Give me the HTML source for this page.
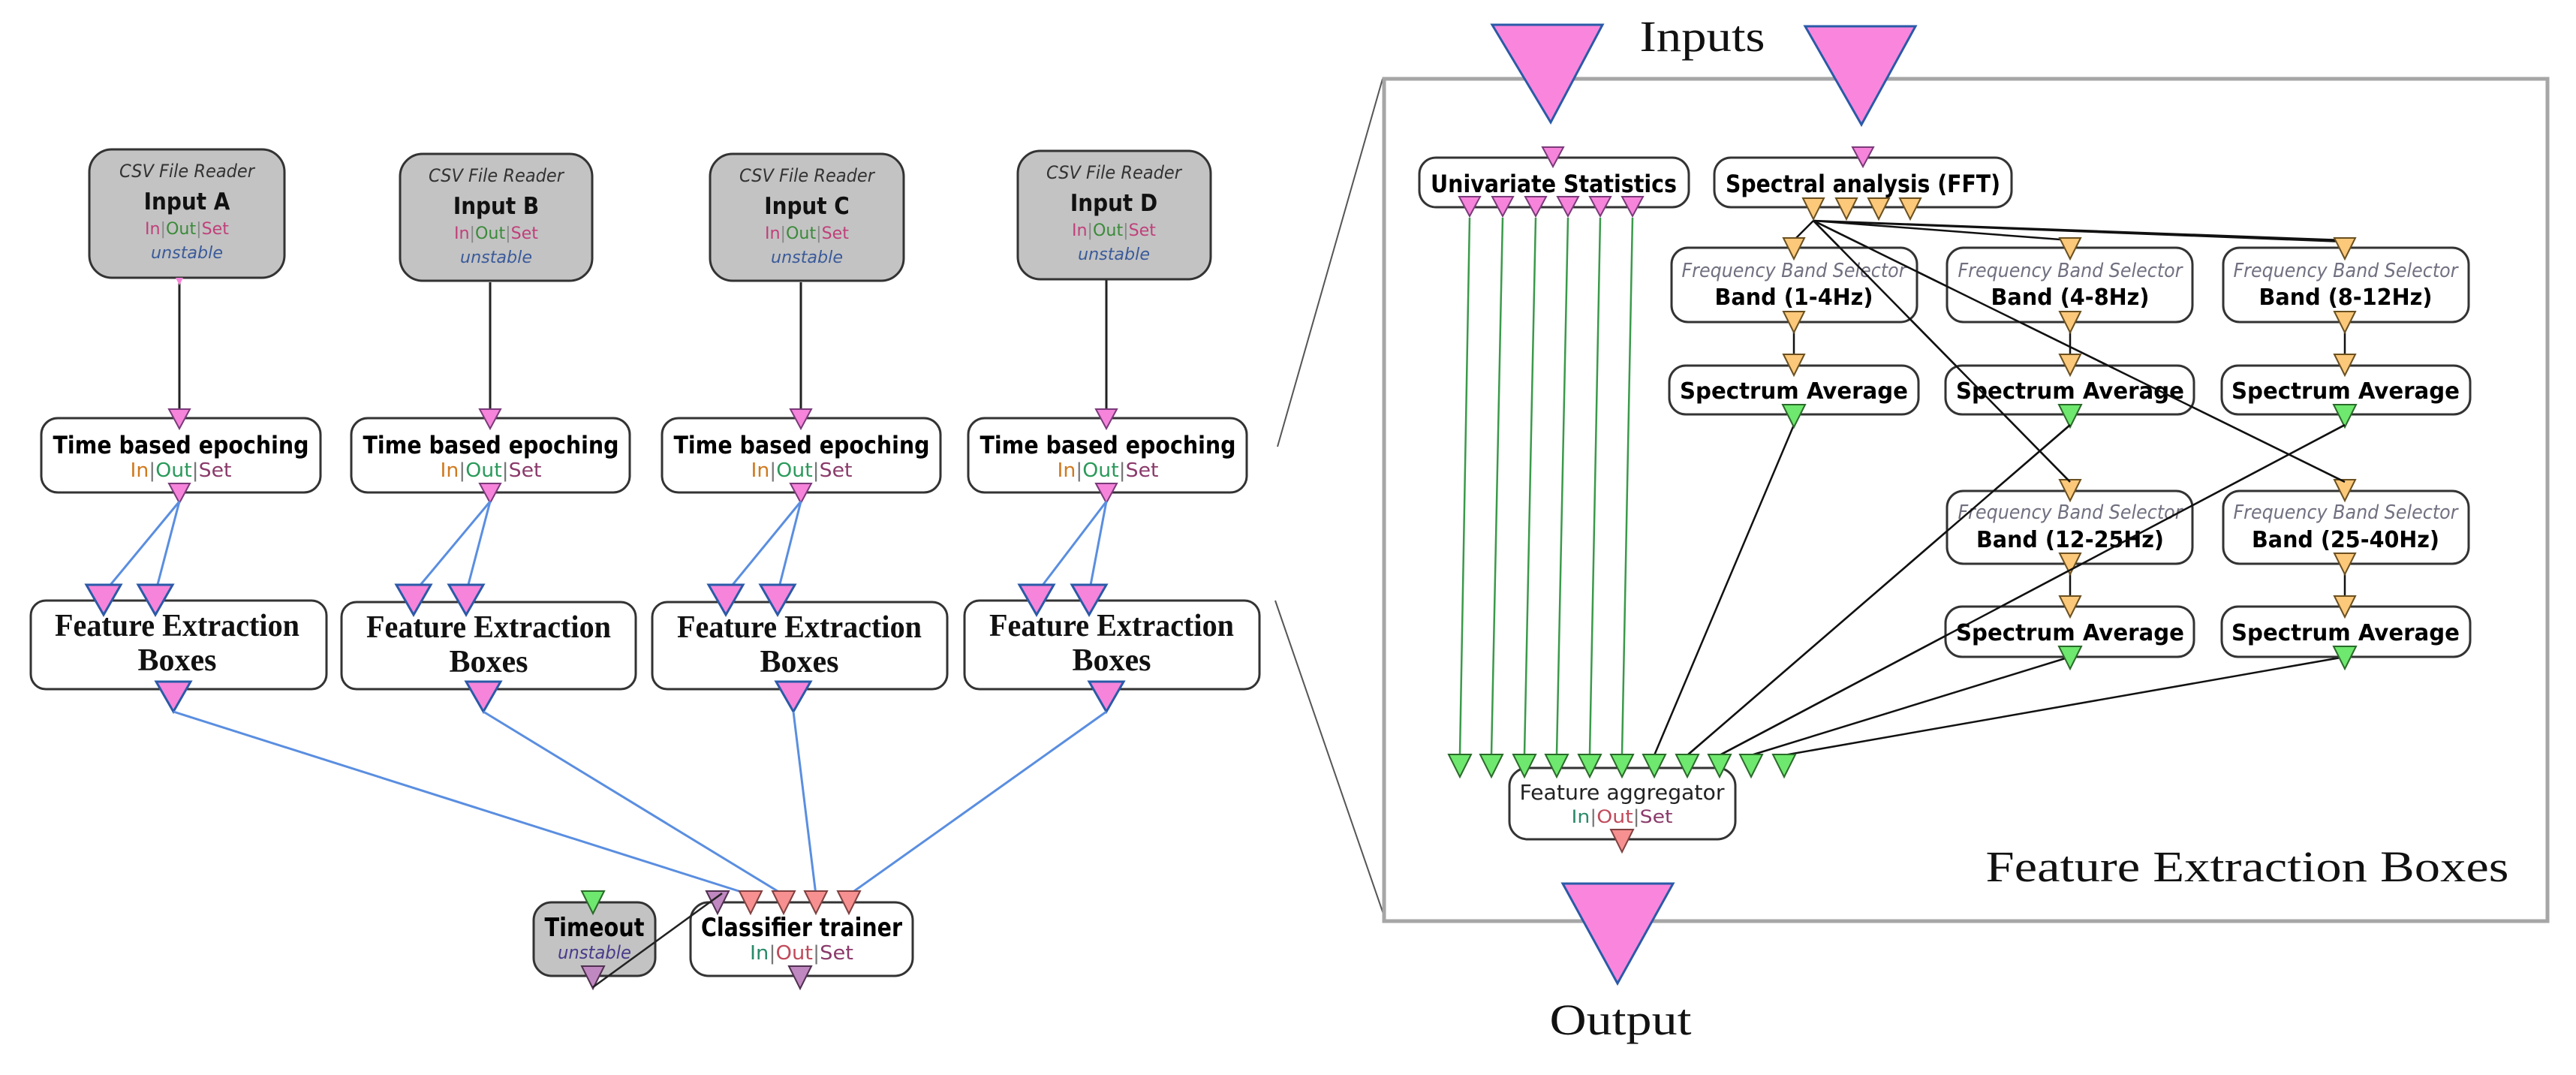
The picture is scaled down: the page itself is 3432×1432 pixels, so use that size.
<!DOCTYPE html>
<html><head><meta charset="utf-8"><style>
html,body{margin:0;padding:0;background:#fff}
svg{display:block}
.s{font-family:"DejaVu Sans Condensed","Liberation Sans",sans-serif}
.t{font-family:"Liberation Serif",serif}
</style></head><body>
<svg width="3432" height="1432" viewBox="0 0 3432 1432" xmlns="http://www.w3.org/2000/svg">
<defs>
<polygon id="pp" points="-14,0 14,0 0,26" fill="#f684da" stroke="#7a3a7a" stroke-width="2"/>
<polygon id="bp" points="-23,0 23,0 0,40" fill="#f684da" stroke="#2a5aa8" stroke-width="3"/>
<polygon id="op" points="-14,0 14,0 0,28" fill="#fcc87a" stroke="#6a5020" stroke-width="2"/>
<polygon id="gp" points="-15,0 15,0 0,30" fill="#6ee86e" stroke="#2a6a2a" stroke-width="2"/>
<polygon id="rp" points="-15,0 15,0 0,30" fill="#f79090" stroke="#804040" stroke-width="2"/>
<polygon id="vp" points="-15,0 15,0 0,30" fill="#c088c0" stroke="#503050" stroke-width="2"/>
</defs>

<line x1="1842" y1="105" x2="1702" y2="595" stroke="#555" stroke-width="2"/>
<line x1="1699" y1="800" x2="1846" y2="1226" stroke="#555" stroke-width="2"/>

<g id="colA">
<line x1="239" y1="370" x2="239" y2="548" stroke="#222" stroke-width="3"/>
<rect x="119" y="199" width="260" height="171" rx="30" fill="#c3c3c3" stroke="#333" stroke-width="3"/>
<text x="249" y="236" class="s" font-size="24" font-style="italic" fill="#333" text-anchor="middle" textLength="180" lengthAdjust="spacingAndGlyphs">CSV File Reader</text>
<text x="249" y="279" class="s" font-size="31" font-weight="bold" fill="#111" text-anchor="middle">Input A</text>
<text x="249" y="312" class="s" font-size="22" text-anchor="middle" textLength="112" lengthAdjust="spacingAndGlyphs"><tspan fill="#c0407a">In</tspan><tspan fill="#888">|</tspan><tspan fill="#3a8a3a">Out</tspan><tspan fill="#888">|</tspan><tspan fill="#c0407a">Set</tspan></text>
<text x="249" y="344" class="s" font-size="22" font-style="italic" fill="#3a5a9a" text-anchor="middle" textLength="96" lengthAdjust="spacingAndGlyphs">unstable</text>
<polygon points="234,370 244,370 239,380" fill="#f684da"/>
<rect x="55" y="557" width="372" height="99" rx="22" fill="#fff" stroke="#333" stroke-width="3"/>
<text x="241" y="604" class="s" font-size="32" font-weight="bold" fill="#000" text-anchor="middle" textLength="341" lengthAdjust="spacingAndGlyphs">Time based epoching</text>
<text x="241" y="635" class="s" font-size="26" text-anchor="middle" textLength="135" lengthAdjust="spacingAndGlyphs"><tspan fill="#d07a20">In</tspan><tspan fill="#777">|</tspan><tspan fill="#2a9a5a">Out</tspan><tspan fill="#777">|</tspan><tspan fill="#8a3a6a">Set</tspan></text>
<use href="#pp" x="239" y="545"/>
<use href="#pp" x="239" y="644"/>
<line x1="239" y1="668" x2="138" y2="790" stroke="#5a8ee0" stroke-width="3"/>
<line x1="239" y1="668" x2="207" y2="790" stroke="#5a8ee0" stroke-width="3"/>
<rect x="41" y="800" width="394" height="118" rx="20" fill="#fff" stroke="#333" stroke-width="3"/>
<text x="236" y="847" class="t" font-size="42" font-weight="bold" fill="#111" text-anchor="middle" textLength="326" lengthAdjust="spacingAndGlyphs">Feature Extraction</text>
<text x="236" y="893" class="t" font-size="42" font-weight="bold" fill="#111" text-anchor="middle">Boxes</text>
<use href="#bp" x="138" y="779"/>
<use href="#bp" x="207" y="779"/>
<use href="#bp" x="231" y="908"/>
</g>

<g transform="translate(414,0)">
<line x1="239" y1="376" x2="239" y2="548" stroke="#222" stroke-width="3"/>
<rect x="119" y="205" width="256" height="169" rx="30" fill="#c3c3c3" stroke="#333" stroke-width="3"/>
<text x="247" y="242" class="s" font-size="24" font-style="italic" fill="#333" text-anchor="middle" textLength="180" lengthAdjust="spacingAndGlyphs">CSV File Reader</text>
<text x="247" y="285" class="s" font-size="31" font-weight="bold" fill="#111" text-anchor="middle">Input B</text>
<text x="247" y="318" class="s" font-size="22" text-anchor="middle" textLength="112" lengthAdjust="spacingAndGlyphs"><tspan fill="#c0407a">In</tspan><tspan fill="#888">|</tspan><tspan fill="#3a8a3a">Out</tspan><tspan fill="#888">|</tspan><tspan fill="#c0407a">Set</tspan></text>
<text x="247" y="350" class="s" font-size="22" font-style="italic" fill="#3a5a9a" text-anchor="middle" textLength="96" lengthAdjust="spacingAndGlyphs">unstable</text>
<rect x="54" y="557" width="371" height="99" rx="22" fill="#fff" stroke="#333" stroke-width="3"/>
<text x="240" y="604" class="s" font-size="32" font-weight="bold" fill="#000" text-anchor="middle" textLength="341" lengthAdjust="spacingAndGlyphs">Time based epoching</text>
<text x="240" y="635" class="s" font-size="26" text-anchor="middle" textLength="135" lengthAdjust="spacingAndGlyphs"><tspan fill="#d07a20">In</tspan><tspan fill="#777">|</tspan><tspan fill="#2a9a5a">Out</tspan><tspan fill="#777">|</tspan><tspan fill="#8a3a6a">Set</tspan></text>
<use href="#pp" x="239" y="545"/>
<use href="#pp" x="239" y="644"/>
<line x1="239" y1="668" x2="137" y2="790" stroke="#5a8ee0" stroke-width="3"/>
<line x1="239" y1="668" x2="207" y2="790" stroke="#5a8ee0" stroke-width="3"/>
<rect x="41" y="802" width="392" height="116" rx="20" fill="#fff" stroke="#333" stroke-width="3"/>
<text x="237" y="849" class="t" font-size="42" font-weight="bold" fill="#111" text-anchor="middle" textLength="326" lengthAdjust="spacingAndGlyphs">Feature Extraction</text>
<text x="237" y="895" class="t" font-size="42" font-weight="bold" fill="#111" text-anchor="middle">Boxes</text>
<use href="#bp" x="137" y="779"/>
<use href="#bp" x="207" y="779"/>
<use href="#bp" x="230" y="908"/>
</g>

<g transform="translate(828,0)">
<line x1="239" y1="376" x2="239" y2="548" stroke="#222" stroke-width="3"/>
<rect x="118" y="205" width="258" height="169" rx="30" fill="#c3c3c3" stroke="#333" stroke-width="3"/>
<text x="247" y="242" class="s" font-size="24" font-style="italic" fill="#333" text-anchor="middle" textLength="180" lengthAdjust="spacingAndGlyphs">CSV File Reader</text>
<text x="247" y="285" class="s" font-size="31" font-weight="bold" fill="#111" text-anchor="middle">Input C</text>
<text x="247" y="318" class="s" font-size="22" text-anchor="middle" textLength="112" lengthAdjust="spacingAndGlyphs"><tspan fill="#c0407a">In</tspan><tspan fill="#888">|</tspan><tspan fill="#3a8a3a">Out</tspan><tspan fill="#888">|</tspan><tspan fill="#c0407a">Set</tspan></text>
<text x="247" y="350" class="s" font-size="22" font-style="italic" fill="#3a5a9a" text-anchor="middle" textLength="96" lengthAdjust="spacingAndGlyphs">unstable</text>
<rect x="54" y="557" width="371" height="99" rx="22" fill="#fff" stroke="#333" stroke-width="3"/>
<text x="240" y="604" class="s" font-size="32" font-weight="bold" fill="#000" text-anchor="middle" textLength="341" lengthAdjust="spacingAndGlyphs">Time based epoching</text>
<text x="240" y="635" class="s" font-size="26" text-anchor="middle" textLength="135" lengthAdjust="spacingAndGlyphs"><tspan fill="#d07a20">In</tspan><tspan fill="#777">|</tspan><tspan fill="#2a9a5a">Out</tspan><tspan fill="#777">|</tspan><tspan fill="#8a3a6a">Set</tspan></text>
<use href="#pp" x="239" y="545"/>
<use href="#pp" x="239" y="644"/>
<line x1="239" y1="668" x2="139" y2="790" stroke="#5a8ee0" stroke-width="3"/>
<line x1="239" y1="668" x2="208" y2="790" stroke="#5a8ee0" stroke-width="3"/>
<rect x="41" y="802" width="393" height="116" rx="20" fill="#fff" stroke="#333" stroke-width="3"/>
<text x="237" y="849" class="t" font-size="42" font-weight="bold" fill="#111" text-anchor="middle" textLength="326" lengthAdjust="spacingAndGlyphs">Feature Extraction</text>
<text x="237" y="895" class="t" font-size="42" font-weight="bold" fill="#111" text-anchor="middle">Boxes</text>
<use href="#bp" x="139" y="779"/>
<use href="#bp" x="208" y="779"/>
<use href="#bp" x="229" y="908"/>
</g>

<g transform="translate(1237,0)">
<line x1="237" y1="372" x2="237" y2="548" stroke="#222" stroke-width="3"/>
<rect x="119" y="201" width="257" height="171" rx="30" fill="#c3c3c3" stroke="#333" stroke-width="3"/>
<text x="247" y="238" class="s" font-size="24" font-style="italic" fill="#333" text-anchor="middle" textLength="180" lengthAdjust="spacingAndGlyphs">CSV File Reader</text>
<text x="247" y="281" class="s" font-size="31" font-weight="bold" fill="#111" text-anchor="middle">Input D</text>
<text x="247" y="314" class="s" font-size="22" text-anchor="middle" textLength="112" lengthAdjust="spacingAndGlyphs"><tspan fill="#c0407a">In</tspan><tspan fill="#888">|</tspan><tspan fill="#3a8a3a">Out</tspan><tspan fill="#888">|</tspan><tspan fill="#c0407a">Set</tspan></text>
<text x="247" y="346" class="s" font-size="22" font-style="italic" fill="#3a5a9a" text-anchor="middle" textLength="96" lengthAdjust="spacingAndGlyphs">unstable</text>
<rect x="53" y="557" width="371" height="99" rx="22" fill="#fff" stroke="#333" stroke-width="3"/>
<text x="239" y="604" class="s" font-size="32" font-weight="bold" fill="#000" text-anchor="middle" textLength="341" lengthAdjust="spacingAndGlyphs">Time based epoching</text>
<text x="239" y="635" class="s" font-size="26" text-anchor="middle" textLength="135" lengthAdjust="spacingAndGlyphs"><tspan fill="#d07a20">In</tspan><tspan fill="#777">|</tspan><tspan fill="#2a9a5a">Out</tspan><tspan fill="#777">|</tspan><tspan fill="#8a3a6a">Set</tspan></text>
<use href="#pp" x="237" y="545"/>
<use href="#pp" x="237" y="644"/>
<line x1="237" y1="668" x2="144" y2="790" stroke="#5a8ee0" stroke-width="3"/>
<line x1="237" y1="668" x2="214" y2="790" stroke="#5a8ee0" stroke-width="3"/>
<rect x="48" y="800" width="393" height="118" rx="20" fill="#fff" stroke="#333" stroke-width="3"/>
<text x="244" y="847" class="t" font-size="42" font-weight="bold" fill="#111" text-anchor="middle" textLength="326" lengthAdjust="spacingAndGlyphs">Feature Extraction</text>
<text x="244" y="893" class="t" font-size="42" font-weight="bold" fill="#111" text-anchor="middle">Boxes</text>
<use href="#bp" x="144" y="779"/>
<use href="#bp" x="214" y="779"/>
<use href="#bp" x="237" y="908"/>
</g>

<g stroke="#5a8ee0" stroke-width="3">
<line x1="231" y1="948" x2="1000" y2="1192"/>
<line x1="644" y1="948" x2="1044" y2="1192"/>
<line x1="1057" y1="948" x2="1087" y2="1192"/>
<line x1="1474" y1="948" x2="1131" y2="1192"/>
</g>

<rect x="711" y="1202" width="162" height="98" rx="24" fill="#c3c3c3" stroke="#333" stroke-width="3"/>
<text x="792" y="1247" class="s" font-size="34" font-weight="bold" fill="#000" text-anchor="middle" textLength="133" lengthAdjust="spacingAndGlyphs">Timeout</text>
<text x="792" y="1277" class="s" font-size="24" font-style="italic" fill="#4a3a8a" text-anchor="middle" textLength="98" lengthAdjust="spacingAndGlyphs">unstable</text>
<use href="#gp" x="790" y="1187"/>
<use href="#vp" x="790" y="1287"/>
<rect x="920" y="1202" width="296" height="98" rx="24" fill="#fff" stroke="#333" stroke-width="3"/>
<text x="1068" y="1247" class="s" font-size="34" font-weight="bold" fill="#000" text-anchor="middle" textLength="268" lengthAdjust="spacingAndGlyphs">Classifier trainer</text>
<text x="1068" y="1278" class="s" font-size="26" text-anchor="middle" textLength="138" lengthAdjust="spacingAndGlyphs"><tspan fill="#2a8a6a">In</tspan><tspan fill="#777">|</tspan><tspan fill="#c04a5a">Out</tspan><tspan fill="#777">|</tspan><tspan fill="#8a3a6a">Set</tspan></text>
<use href="#vp" x="956" y="1187"/>
<use href="#rp" x="1000" y="1187"/>
<use href="#rp" x="1044" y="1187"/>
<use href="#rp" x="1087" y="1187"/>
<use href="#rp" x="1131" y="1187"/>
<use href="#vp" x="1066" y="1287"/>
<line x1="790" y1="1315" x2="962" y2="1190" stroke="#222" stroke-width="2.5"/>

<rect x="1844" y="105" width="1550" height="1122" fill="none" stroke="#a6a6a6" stroke-width="5"/>
<polygon points="1988,33 2135,33 2066,163" fill="#f986dc" stroke="#2a5aa8" stroke-width="3"/>
<polygon points="2405,35 2552,35 2480,166" fill="#f986dc" stroke="#2a5aa8" stroke-width="3"/>
<polygon points="2082,1177 2229,1177 2155,1310" fill="#f986dc" stroke="#2a5aa8" stroke-width="3"/>
<text x="2268" y="68" class="t" font-size="58" fill="#111" text-anchor="middle" textLength="167" lengthAdjust="spacingAndGlyphs">Inputs</text>
<text x="2159" y="1378" class="t" font-size="58" fill="#111" text-anchor="middle" textLength="189" lengthAdjust="spacingAndGlyphs">Output</text>
<text x="2994" y="1174" class="t" font-size="58" fill="#111" text-anchor="middle" textLength="697" lengthAdjust="spacingAndGlyphs">Feature Extraction Boxes</text>

<g stroke="#3a9a4a" stroke-width="2.5" fill="none">
<line x1="1958" y1="290" x2="1945" y2="1005"/>
<line x1="2002" y1="290" x2="1987" y2="1005"/>
<line x1="2046" y1="290" x2="2031" y2="1005"/>
<line x1="2089" y1="290" x2="2074" y2="1005"/>
<line x1="2132" y1="290" x2="2118" y2="1005"/>
<line x1="2175" y1="290" x2="2161" y2="1005"/>
</g>

<g stroke="#111" stroke-width="2.5" fill="none">
<line x1="2416" y1="294" x2="2390" y2="320"/>
<line x1="2416" y1="294" x2="2758" y2="320"/>
<line x1="2416" y1="294" x2="3124" y2="320"/>
<line x1="2460" y1="296" x2="3124" y2="322"/>
<line x1="2416" y1="294" x2="2758" y2="642"/>
<line x1="2416" y1="294" x2="3124" y2="642"/>
<line x1="2390" y1="440" x2="2390" y2="475"/>
<line x1="2758" y1="440" x2="2758" y2="475"/>
<line x1="3124" y1="440" x2="3124" y2="475"/>
<line x1="2758" y1="748" x2="2758" y2="810"/>
<line x1="3124" y1="748" x2="3124" y2="810"/>
<line x1="2390" y1="566" x2="2204" y2="1006"/>
<line x1="2758" y1="566" x2="2248" y2="1006"/>
<line x1="3124" y1="566" x2="2291" y2="1006"/>
<line x1="2758" y1="875" x2="2333" y2="1006"/>
<line x1="3124" y1="875" x2="2377" y2="1006"/>
</g>

<rect x="1891" y="210" width="359" height="66" rx="22" fill="#fff" stroke="#333" stroke-width="3"/>
<text x="2070" y="256" class="s" font-size="32" font-weight="bold" fill="#000" text-anchor="middle" textLength="328" lengthAdjust="spacingAndGlyphs">Univariate Statistics</text>
<use href="#pp" x="2069" y="196"/>
<use href="#pp" x="1958" y="262"/><use href="#pp" x="2002" y="262"/><use href="#pp" x="2046" y="262"/>
<use href="#pp" x="2089" y="262"/><use href="#pp" x="2132" y="262"/><use href="#pp" x="2175" y="262"/>
<rect x="2284" y="210" width="396" height="66" rx="22" fill="#fff" stroke="#333" stroke-width="3"/>
<text x="2482" y="256" class="s" font-size="32" font-weight="bold" fill="#000" text-anchor="middle" textLength="366" lengthAdjust="spacingAndGlyphs">Spectral analysis (FFT)</text>
<use href="#pp" x="2482" y="196"/>
<use href="#op" x="2416" y="264"/><use href="#op" x="2460" y="264"/><use href="#op" x="2503" y="264"/><use href="#op" x="2545" y="264"/>

<rect x="2227" y="330" width="327" height="99" rx="22" fill="#fff" stroke="#333" stroke-width="3"/>
<text x="2390" y="369" class="s" font-size="26" font-style="italic" fill="#707080" text-anchor="middle" textLength="299" lengthAdjust="spacingAndGlyphs">Frequency Band Selector</text>
<text x="2390" y="406" class="s" font-size="30" font-weight="bold" fill="#000" text-anchor="middle" textLength="211" lengthAdjust="spacingAndGlyphs">Band (1-4Hz)</text>
<rect x="2594" y="330" width="327" height="99" rx="22" fill="#fff" stroke="#333" stroke-width="3"/>
<text x="2758" y="369" class="s" font-size="26" font-style="italic" fill="#707080" text-anchor="middle" textLength="299" lengthAdjust="spacingAndGlyphs">Frequency Band Selector</text>
<text x="2758" y="406" class="s" font-size="30" font-weight="bold" fill="#000" text-anchor="middle" textLength="211" lengthAdjust="spacingAndGlyphs">Band (4-8Hz)</text>
<rect x="2962" y="330" width="327" height="99" rx="22" fill="#fff" stroke="#333" stroke-width="3"/>
<text x="3125" y="369" class="s" font-size="26" font-style="italic" fill="#707080" text-anchor="middle" textLength="299" lengthAdjust="spacingAndGlyphs">Frequency Band Selector</text>
<text x="3125" y="406" class="s" font-size="30" font-weight="bold" fill="#000" text-anchor="middle" textLength="231" lengthAdjust="spacingAndGlyphs">Band (8-12Hz)</text>
<rect x="2224" y="487" width="332" height="65" rx="22" fill="#fff" stroke="#333" stroke-width="3"/>
<text x="2390" y="531" class="s" font-size="30" font-weight="bold" fill="#000" text-anchor="middle" textLength="304" lengthAdjust="spacingAndGlyphs">Spectrum Average</text>
<rect x="2592" y="487" width="331" height="65" rx="22" fill="#fff" stroke="#333" stroke-width="3"/>
<text x="2758" y="531" class="s" font-size="30" font-weight="bold" fill="#000" text-anchor="middle" textLength="304" lengthAdjust="spacingAndGlyphs">Spectrum Average</text>
<rect x="2960" y="487" width="331" height="65" rx="22" fill="#fff" stroke="#333" stroke-width="3"/>
<text x="3125" y="531" class="s" font-size="30" font-weight="bold" fill="#000" text-anchor="middle" textLength="304" lengthAdjust="spacingAndGlyphs">Spectrum Average</text>
<rect x="2594" y="654" width="327" height="97" rx="22" fill="#fff" stroke="#333" stroke-width="3"/>
<text x="2758" y="691" class="s" font-size="26" font-style="italic" fill="#707080" text-anchor="middle" textLength="299" lengthAdjust="spacingAndGlyphs">Frequency Band Selector</text>
<text x="2758" y="729" class="s" font-size="30" font-weight="bold" fill="#000" text-anchor="middle" textLength="250" lengthAdjust="spacingAndGlyphs">Band (12-25Hz)</text>
<rect x="2962" y="654" width="327" height="97" rx="22" fill="#fff" stroke="#333" stroke-width="3"/>
<text x="3125" y="691" class="s" font-size="26" font-style="italic" fill="#707080" text-anchor="middle" textLength="299" lengthAdjust="spacingAndGlyphs">Frequency Band Selector</text>
<text x="3125" y="729" class="s" font-size="30" font-weight="bold" fill="#000" text-anchor="middle" textLength="250" lengthAdjust="spacingAndGlyphs">Band (25-40Hz)</text>
<rect x="2592" y="808" width="331" height="67" rx="22" fill="#fff" stroke="#333" stroke-width="3"/>
<text x="2758" y="853" class="s" font-size="30" font-weight="bold" fill="#000" text-anchor="middle" textLength="304" lengthAdjust="spacingAndGlyphs">Spectrum Average</text>
<rect x="2960" y="808" width="331" height="67" rx="22" fill="#fff" stroke="#333" stroke-width="3"/>
<text x="3125" y="853" class="s" font-size="30" font-weight="bold" fill="#000" text-anchor="middle" textLength="304" lengthAdjust="spacingAndGlyphs">Spectrum Average</text>

<use href="#op" x="2390" y="317"/><use href="#op" x="2758" y="317"/><use href="#op" x="3124" y="317"/>
<use href="#op" x="2390" y="415"/><use href="#op" x="2758" y="415"/><use href="#op" x="3124" y="415"/>
<use href="#op" x="2390" y="472"/><use href="#op" x="2758" y="472"/><use href="#op" x="3124" y="472"/>
<use href="#gp" x="2390" y="539"/><use href="#gp" x="2758" y="539"/><use href="#gp" x="3124" y="539"/>
<use href="#op" x="2758" y="639"/><use href="#op" x="3124" y="639"/>
<use href="#op" x="2758" y="737"/><use href="#op" x="3124" y="737"/>
<use href="#op" x="2758" y="794"/><use href="#op" x="3124" y="794"/>
<use href="#gp" x="2758" y="861"/><use href="#gp" x="3124" y="861"/>
<g stroke="#111" stroke-width="2.5">
<line x1="2416" y1="294" x2="2758" y2="642"/>
<line x1="2416" y1="294" x2="3124" y2="642"/>
<line x1="2758" y1="566" x2="2248" y2="1006"/>
<line x1="3124" y1="566" x2="2291" y2="1006"/>
</g>

<rect x="2011" y="1023" width="301" height="95" rx="24" fill="#fff" stroke="#333" stroke-width="3"/>
<text x="2161" y="1065" class="s" font-size="28" fill="#222" text-anchor="middle" textLength="273" lengthAdjust="spacingAndGlyphs">Feature aggregator</text>
<text x="2161" y="1096" class="s" font-size="24" text-anchor="middle" textLength="135" lengthAdjust="spacingAndGlyphs"><tspan fill="#2a8a6a">In</tspan><tspan fill="#777">|</tspan><tspan fill="#c04a5a">Out</tspan><tspan fill="#777">|</tspan><tspan fill="#8a3a6a">Set</tspan></text>
<use href="#gp" x="1945" y="1005"/><use href="#gp" x="1987" y="1005"/><use href="#gp" x="2031" y="1005"/>
<use href="#gp" x="2074" y="1005"/><use href="#gp" x="2118" y="1005"/><use href="#gp" x="2161" y="1005"/>
<use href="#gp" x="2204" y="1005"/><use href="#gp" x="2248" y="1005"/><use href="#gp" x="2291" y="1005"/>
<use href="#gp" x="2333" y="1005"/><use href="#gp" x="2377" y="1005"/>
<use href="#rp" x="2161" y="1105"/>
</svg>
</body></html>
